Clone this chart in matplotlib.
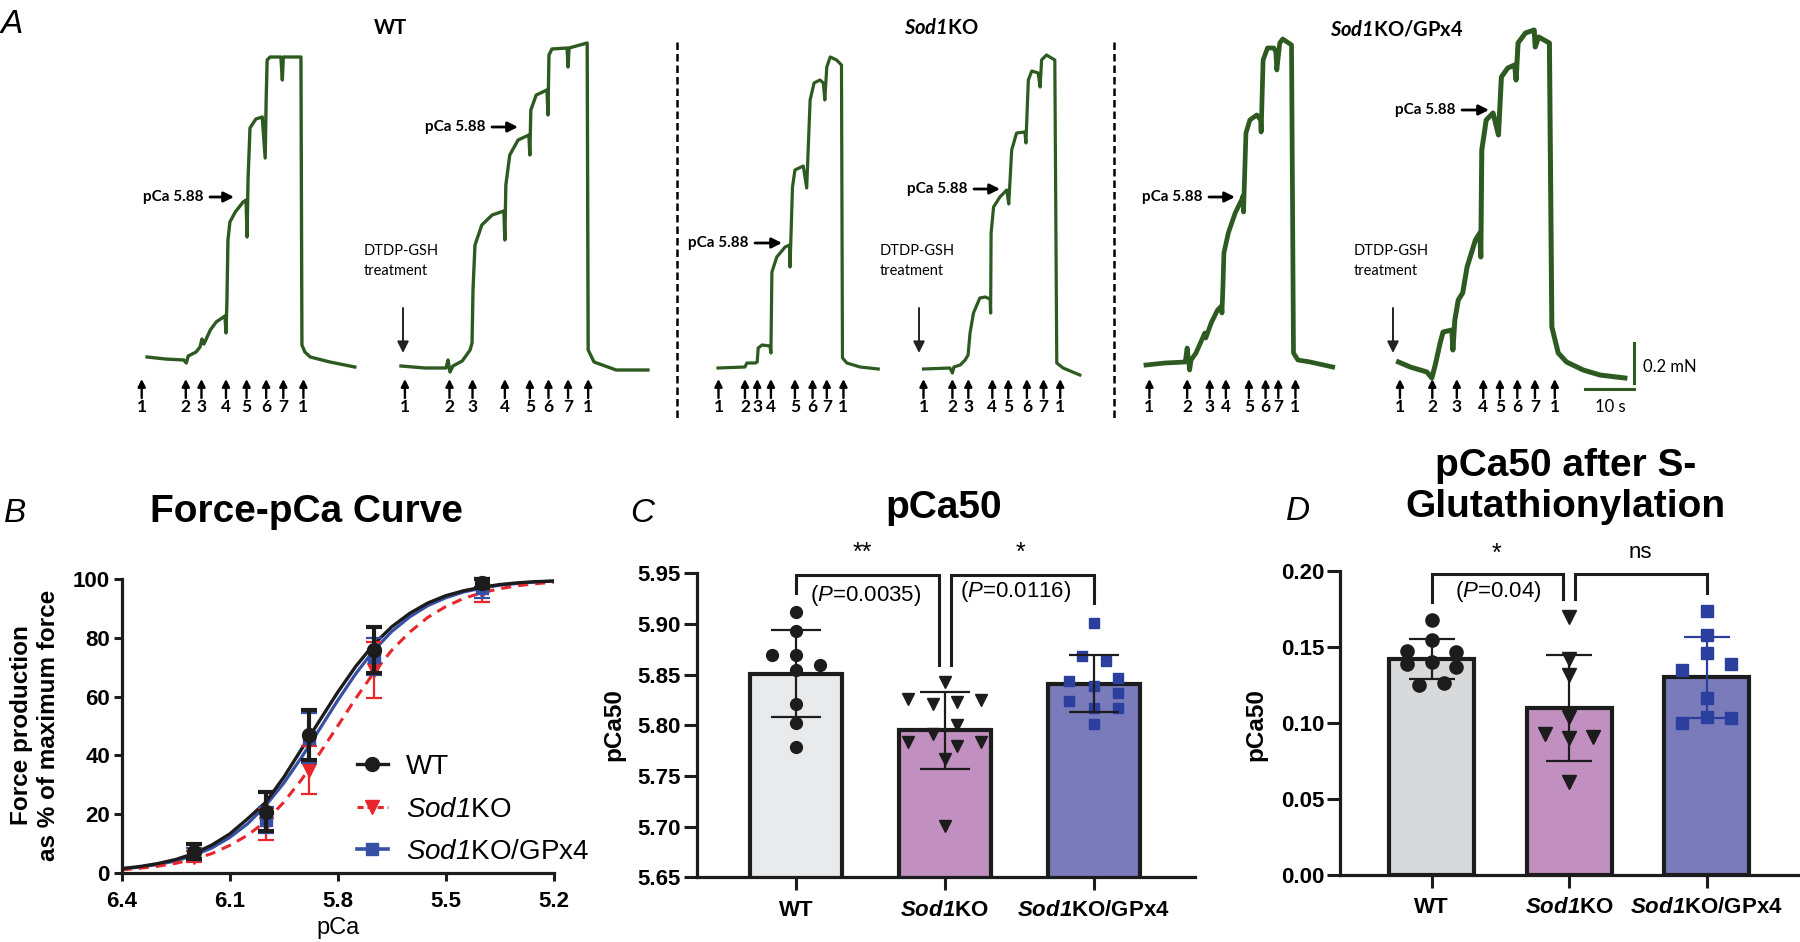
import matplotlib
matplotlib.use("Agg")
import matplotlib.pyplot as plt
from matplotlib.lines import Line2D
import numpy as np

plt.rcParams["font.family"] = ["Liberation Sans", "DejaVu Sans"]
plt.rcParams["mathtext.fontset"] = "custom"
plt.rcParams["mathtext.rm"] = "Liberation Sans"
plt.rcParams["mathtext.tt"] = "Liberation Sans:italic:bold"
plt.rcParams["mathtext.sf"] = "Liberation Sans:italic"
plt.rcParams["mathtext.cal"] = "Lato:italic:bold"

# ---------------- panel A: force recordings (time s, force above baseline mN) ----------------
sol_labels = ["1", "2", "3", "4", "5", "6", "7", "1"]

wt1_t = [1.1, 4.8, 8.6, 9.1, 9.5, 11.1, 11.9, 12.3, 12.7, 14.0, 15.2, 16.4, 17.0, 17.2, 17.4,
         17.6, 18.0, 19.1, 20.7, 21.3, 21.5, 21.7, 22.1, 23.3, 24.6, 25.2, 25.4, 25.6, 26.2,
         28.4, 28.7, 28.9, 32.5, 32.7, 33.3, 34.4, 38.4, 43.5]
wt1_f = [0.005, -0.005, -0.01, -0.025, 0.01, 0.03, 0.055, 0.095, 0.07, 0.14, 0.18, 0.20, 0.21,
         0.125, 0.29, 0.59, 0.68, 0.73, 0.78, 0.79, 0.605, 0.89, 1.15, 1.195, 1.205, 1.0, 1.29,
         1.49, 1.505, 1.505, 1.39, 1.505, 1.505, 0.065, 0.03, 0.005, -0.02, -0.045]
wt1_arrows = [0, 9.0, 12.2, 17.2, 21.4, 25.4, 28.9, 33.0]

wt2_t = [0.2, 5.1, 9.4, 9.8, 10.2, 10.8, 12.7, 14.3, 14.7, 14.9, 15.3, 16.7, 18.8, 21.2, 21.4,
         21.6, 22.4, 24.1, 26.3, 26.5, 26.7, 27.8, 30.0, 30.2, 30.4, 31.0, 34.1, 34.3, 34.5,
         38.2, 38.4, 39.6, 44.1, 50.6]
wt2_f = [0.005, -0.005, -0.005, 0.035, -0.025, 0.005, 0.03, 0.085, 0.12, 0.385, 0.61, 0.71, 0.76,
         0.78, 0.635, 0.91, 1.06, 1.135, 1.16, 1.06, 1.285, 1.36, 1.385, 1.26, 1.56, 1.59, 1.595,
         1.50, 1.595, 1.62, 0.085, 0.025, -0.015, -0.015]
wt2_arrows = [1.0, 10.1, 14.8, 21.4, 26.5, 30.3, 34.3, 38.4]

ko1_t = [0, 5.5, 5.9, 7.6, 8.0, 8.2, 9.0, 10.6, 10.8, 11.0, 12.0, 13.7, 14.6, 14.7, 15.2, 15.7,
         17.4, 18.1, 18.8, 19.6, 20.8, 21.5, 21.8, 22.2, 22.9, 24.2, 25.2, 25.4, 26.3, 29.0, 32.7]
ko1_f = [-0.005, 0, 0.02, 0.02, 0.025, 0.095, 0.11, 0.105, 0.07, 0.475, 0.55, 0.60, 0.61, 0.50,
         0.90, 0.985, 1.005, 0.895, 1.335, 1.42, 1.435, 1.42, 1.335, 1.50, 1.55, 1.535, 1.51,
         0.045, 0.02, 0, -0.01]
ko1_arrows = [0.1, 5.5, 8.0, 10.8, 15.7, 19.3, 22.2, 25.6]

ko2_t = [0.1, 5.5, 6.0, 6.3, 7.6, 8.6, 9.2, 9.6, 10.3, 11.6, 12.7, 13.7, 13.8, 13.9, 14.4, 15.7,
         17.1, 17.5, 18.1, 19.1, 20.8, 21.0, 21.5, 22.2, 23.5, 23.9, 24.2, 25.2, 26.9, 27.3,
         28.6, 32.0]
ko2_f = [0, 0.005, -0.02, 0.01, 0.02, 0.045, 0.07, 0.18, 0.28, 0.355, 0.36, 0.35, 0.28, 0.68,
         0.81, 0.86, 0.895, 0.825, 1.095, 1.18, 1.185, 1.13, 1.445, 1.49, 1.48, 1.41, 1.545, 1.57,
         1.545, 0.03, 0.005, -0.03]
ko2_arrows = [0.1, 6.0, 9.25, 14.15, 17.4, 21.2, 24.6, 28.0]

gp1_t = [0, 3.9, 8.0, 8.4, 8.9, 9.2, 10.2, 12.0, 12.2, 13.3, 14.6, 15.4, 15.5, 15.7, 15.9, 16.8,
         18.2, 19.5, 19.8, 19.9, 20.4, 21.2, 22.6, 23.4, 23.5, 23.9, 24.8, 26.1, 26.5, 26.7,
         27.3, 27.9, 29.7, 30.1, 31.0, 33.5, 38.1]
gp1_f = [-0.005, 0.005, 0.01, 0.08, -0.03, 0.02, 0.055, 0.155, 0.13, 0.205, 0.27, 0.29, 0.255,
         0.385, 0.555, 0.655, 0.755, 0.82, 0.84, 0.76, 1.155, 1.22, 1.245, 1.22, 1.16, 1.52,
         1.58, 1.58, 1.56, 1.47, 1.605, 1.625, 1.595, 0.055, 0.02, 0.01, -0.015]
gp1_arrows = [0.7, 8.4, 13.0, 16.3, 21.0, 24.4, 27.0, 30.5]

gp2_t = [0.1, 2.5, 5.9, 6.9, 7.6, 8.6, 9.2, 11.0, 11.2, 11.6, 12.3, 13.2, 14.1, 15.8, 16.7, 16.9,
         17.1, 18.0, 19.4, 20.5, 21.1, 22.4, 23.8, 24.1, 24.5, 26.0, 27.8, 28.0, 28.7, 30.9,
         31.4, 32.7, 34.4, 37.8, 41.2, 46.3]
gp2_f = [0.005, -0.02, -0.045, -0.075, -0.01, 0.10, 0.155, 0.165, 0.065, 0.215, 0.315, 0.35,
         0.48, 0.615, 0.65, 0.53, 1.065, 1.215, 1.25, 1.14, 1.43, 1.475, 1.49, 1.415, 1.60, 1.65,
         1.665, 1.58, 1.63, 1.60, 0.18, 0.05, 0.005, -0.035, -0.06, -0.075]
gp2_arrows = [0.4, 7.0, 12.0, 17.4, 20.8, 24.35, 27.95, 32.0]

scale_time = 10    # s
scale_force = 0.2  # mN

# ---------------- panel B: force-pCa ----------------
pca_fit = [6.40, 6.35, 6.30, 6.25, 6.20, 6.15, 6.10, 6.05, 6.00, 5.95, 5.90, 5.85, 5.80,
           5.75, 5.70, 5.65, 5.60, 5.55, 5.50, 5.45, 5.40, 5.35, 5.30, 5.25, 5.20]
wt_fit = [1.4, 2.1, 3.1, 4.5, 6.5, 9.4, 13.2, 18.4, 24.0, 32.5, 42.2, 51.9, 61.5, 70.3, 77.8,
          83.8, 88.4, 91.9, 94.4, 96.1, 97.3, 98.2, 98.8, 99.2, 99.4]
ko_fit = [1.0, 1.5, 2.2, 3.2, 4.6, 6.5, 9.3, 12.8, 17.5, 24.0, 31.8, 40.7, 50.0, 59.4, 68.1,
          75.8, 82.0, 87.0, 90.7, 93.5, 95.4, 96.8, 97.8, 98.5, 99.0]
gp_fit = [1.3, 1.9, 2.8, 4.0, 5.9, 8.4, 12.0, 16.7, 22.9, 30.5, 39.4, 49.0, 58.7, 67.8, 75.7,
          82.2, 87.2, 91.0, 93.7, 95.7, 97.0, 98.0, 98.6, 99.1, 99.4]
pca_pts = [6.2, 6.0, 5.88, 5.7, 5.4]
wt_pts = [7.2, 20.8, 46.9, 75.9, 98.6]
wt_err = [2.7, 6.7, 8.4, 7.8, 1.5]
ko_pts = [5.5, 16.6, 35.0, 69.0, 96.0]
ko_err = [2.0, 5.5, 8.3, 9.6, 3.6]
gp_pts = [6.5, 18.0, 45.8, 73.6, 97.0]
gp_err = [2.0, 4.5, 8.5, 6.3, 3.5]

# ---------------- panels C and D ----------------
group_labels = ["WT", r"$\mathtt{Sod1}$KO", r"$\mathtt{Sod1}$KO/GPx4"]

c_means = [5.851, 5.795, 5.841]
c_sd = [0.043, 0.038, 0.028]
c_wt = [5.912, 5.893, 5.869, 5.869, 5.860, 5.855, 5.821, 5.802, 5.779]
c_wt_dx = [0, 0, -0.16, 0, 0.16, 0, 0, 0, 0]
c_ko = [5.843, 5.826, 5.821, 5.823, 5.825, 5.800, 5.784, 5.791, 5.780, 5.784, 5.767, 5.701]
c_ko_dx = [0, -0.245, -0.08, 0.08, 0.245, 0.08, -0.245, -0.08, 0.08, 0.245, 0, 0]
c_gp = [5.901, 5.868, 5.863, 5.844, 5.839, 5.847, 5.824, 5.832, 5.817, 5.817, 5.801]
c_gp_dx = [0, -0.08, 0.08, -0.165, 0, 0.165, -0.165, 0.165, 0, 0.165, 0]
c_pvals = ["**", "*"]
c_ptext = [r"($\mathsf{P}$=0.0035)", r"($\mathsf{P}$=0.0116)"]

d_means = [0.142, 0.110, 0.130]
d_sd = [0.013, 0.035, 0.0265]
d_wt = [0.168, 0.1546, 0.1476, 0.147, 0.1388, 0.1403, 0.137, 0.125, 0.1265]
d_wt_dx = [0, 0, -0.18, 0.18, -0.18, 0, 0.18, -0.095, 0.09]
d_ko = [0.170, 0.142, 0.1316, 0.104, 0.0925, 0.090, 0.091, 0.0614]
d_ko_dx = [0, 0, 0, 0, -0.175, 0, 0.177, 0]
d_gp = [0.1739, 0.158, 0.1458, 0.1349, 0.1388, 0.1167, 0.1042, 0.0998, 0.1035]
d_gp_dx = [0, 0, 0, -0.177, 0.179, 0, 0, -0.177, 0.179]
d_pvals = ["*", "ns"]
d_ptext = r"($\mathsf{P}$=0.04)"

# ---------------- styles ----------------
GREEN = "#2d5a20"
RED = "#e8262b"
BLUE = "#3550a5"
SQ_BLUE = "#2b3f9f"
INK = "#1c1c1c"
BAR_C = ["#e9eaec", "#c290c0", "#797bba"]
BAR_D = ["#d8d9db", "#c290c0", "#797bba"]

W, H = 1800, 942
A_H = 420
PX_PER_S = 4.9
PX_PER_MN = 200.0


def fx(px):
    return px / W


def fy(py):
    return 1 - py / H


def rect(l, t, r, b):
    return [fx(l), fy(b), (r - l) / W, (b - t) / H]


def a_t(px):
    return px / PX_PER_S


def a_f(py):
    return (A_H - py) / PX_PER_MN


fig = plt.figure(figsize=(W / 100, H / 100), dpi=100)

# ---------------- panel A ----------------
ax_a = fig.add_axes(rect(0, 0, W, A_H))
ax_a.set_xlim(0, W / PX_PER_S)
ax_a.set_ylim(0, A_H / PX_PER_MN)
ax_a.axis("off")

traces = [
    (wt1_t, wt1_f, wt1_arrows, 141.7, 358, 2.4),
    (wt2_t, wt2_f, wt2_arrows, 400, 367, 2.4),
    (ko1_t, ko1_f, ko1_arrows, 718, 367, 2.3),
    (ko2_t, ko2_f, ko2_arrows, 923, 369, 2.3),
    (gp1_t, gp1_f, gp1_arrows, 1146, 364, 3.4),
    (gp2_t, gp2_f, gp2_arrows, 1398, 363, 3.6),
]
for t, f, arrows, x0, y0, lw in traces:
    ax_a.plot(np.array(t) + a_t(x0), np.array(f) + a_f(y0), color=GREEN, lw=lw,
              solid_joinstyle="round")
    for lab, ta in zip(sol_labels, arrows):
        xx = ta + a_t(x0)
        ax_a.annotate("", xy=(xx, a_f(379)), xytext=(xx, a_f(398)),
                      arrowprops=dict(arrowstyle="-|>", color="k", lw=1.7, mutation_scale=11,
                                      shrinkA=0, shrinkB=0))
        ax_a.text(xx, a_f(407.5), lab, ha="center", va="center", fontfamily="Lato",
                  fontweight="bold", fontsize=12.5)

# scale bar
bar_x, bar_y = a_t(1634.3), a_f(389.3)
ax_a.plot([bar_x - scale_time, bar_x], [bar_y, bar_y], color=GREEN, lw=2.2)
ax_a.plot([bar_x, bar_x], [a_f(383.3), a_f(383.3) + scale_force], color=GREEN, lw=2.2)

ov = fig.add_axes([0, 0, 1, 1])
ov.set_xlim(0, W)
ov.set_ylim(H, 0)
ov.axis("off")

ov.text(1643, 367, "0.2 mN", ha="left", va="center", fontfamily="Lato", fontsize=12)
ov.text(1610, 407, "10 s", ha="center", va="center", fontfamily="Lato", fontsize=12)

for xd in [677, 1114]:
    ov.plot([xd, xd], [42, 420], color="k", lw=1.8, ls=(0, (3, 1.6)))

for xc in [403, 919, 1393]:
    ov.annotate("", xy=(xc, 353), xytext=(xc, 308),
                arrowprops=dict(arrowstyle="-|>", color="#222", lw=1.4, mutation_scale=17,
                                shrinkA=0, shrinkB=0))
    ov.text(xc - 2, 261, "DTDP-GSH\ntreatment", ha="center", va="center", fontfamily="Lato",
            fontsize=10.5, linespacing=1.55, multialignment="left")

pca_marks = [(143, 208, 234, 197), (425, 490, 518, 127), (688, 753, 782, 243),
             (907, 972, 1000, 189), (1142, 1207, 1235, 197), (1395, 1460, 1489, 110)]
for xt, xa, xb, yy in pca_marks:
    ov.text(xt, yy, "pCa 5.88", ha="left", va="center", fontfamily="Lato", fontweight="bold",
            fontsize=11)
    ov.annotate("", xy=(xb, yy), xytext=(xa + 2, yy),
                arrowprops=dict(arrowstyle="-|>", color="k", lw=2.0, mutation_scale=15,
                                shrinkA=0, shrinkB=0))

ov.text(390, 28, "WT", ha="center", va="center", fontfamily="Lato", fontweight="bold",
        fontsize=14.5)
ov.text(941, 28, r"$\mathcal{Sod1}$KO", ha="center", va="center", fontfamily="Lato",
        fontweight="bold", fontsize=14.5)
ov.text(1397, 30, r"$\mathcal{Sod1}$KO/GPx4", ha="center", va="center", fontfamily="Lato",
        fontweight="bold", fontsize=14.5)

# panel letters and titles
for lx, ly, letter in [(1, 33, "A"), (4, 522, "B"), (630, 522, "C"), (1286, 520, "D")]:
    ov.text(lx, ly, letter, ha="left", va="baseline", fontstyle="italic", fontsize=24)
ov.text(306, 522, "Force-pCa Curve", ha="center", va="baseline", fontweight="bold", fontsize=28)
ov.text(944, 518, "pCa50", ha="center", va="baseline", fontweight="bold", fontsize=28)
ov.text(1566, 476, "pCa50 after S-", ha="center", va="baseline", fontweight="bold", fontsize=28)
ov.text(1565, 517, "Glutathionylation", ha="center", va="baseline", fontweight="bold",
        fontsize=28)


def style_axes(ax, tick_len):
    for s in ["top", "right"]:
        ax.spines[s].set_visible(False)
    for s in ["left", "bottom"]:
        ax.spines[s].set_linewidth(2.3)
        ax.spines[s].set_color(INK)
    ax.tick_params(length=tick_len, width=2.2, color=INK, labelsize=16)
    for lab in ax.get_yticklabels() + ax.get_xticklabels():
        lab.set_fontweight("bold")


# ---------------- panel B ----------------
ax_b = fig.add_axes(rect(121.7, 579.3, 553.7, 872.7))
ax_b.plot(pca_fit, gp_fit, color=BLUE, lw=2.3, zorder=2)
ax_b.plot(pca_fit, ko_fit, color=RED, lw=2.2, ls=(0, (3.3, 2.3)), zorder=2)
ax_b.plot(pca_fit, wt_fit, color=INK, lw=2.4, zorder=3)
ax_b.errorbar(pca_pts, ko_pts, yerr=ko_err, fmt="v", color=RED, ms=10, elinewidth=1.6,
              capsize=6, capthick=1.6, zorder=4, clip_on=False)
ax_b.errorbar(pca_pts, gp_pts, yerr=gp_err, fmt="s", color=BLUE, ms=9, elinewidth=1.6,
              capsize=6, capthick=1.6, zorder=5, clip_on=False)
ax_b.errorbar(pca_pts, wt_pts, yerr=wt_err, fmt="o", color=INK, ms=10, elinewidth=3,
              capsize=6, capthick=3, zorder=6, clip_on=False)
ax_b.set_xlim(6.4, 5.2)
ax_b.set_ylim(0, 100)
ax_b.set_xticks([6.4, 6.1, 5.8, 5.5, 5.2])
ax_b.set_yticks([0, 20, 40, 60, 80, 100])
style_axes(ax_b, 6)
ax_b.tick_params(axis="x", pad=7)
ax_b.tick_params(axis="y", pad=2.5)
handles = [
    Line2D([0], [0], color=INK, lw=2.4, marker="o", ms=10),
    Line2D([0], [0], color=RED, lw=2.2, ls=(0, (2, 1.3)), marker="v", ms=10),
    Line2D([0], [0], color=BLUE, lw=2.6, marker="s", ms=9),
]
ax_b.legend(handles, ["WT", r"$\mathsf{Sod1}$KO", r"$\mathsf{Sod1}$KO/GPx4"],
            loc="upper left", bbox_to_anchor=(0.545, 0.405), frameon=False, fontsize=20,
            borderpad=0, borderaxespad=0, handlelength=1.1, handletextpad=0.65,
            labelspacing=0.6)
ov.text(35, 725, "Force production\nas % of maximum force", rotation=90, ha="center",
        va="center", fontweight="bold", fontsize=17.5, linespacing=1.2)
ov.text(338, 928, "pCa", ha="center", va="center", fontsize=17)


# ---------------- panels C and D ----------------
def bar_panel(ax, means, sds, colors, groups, ylim, yticks, fmt, ms, capsize, err_colors):
    xs = np.arange(len(means))
    ax.bar(xs, means, width=0.62, color=colors, edgecolor=INK, linewidth=3.0, zorder=1)
    markers = [("o", INK), ("v", INK), ("s", SQ_BLUE)]
    for i, (vals, dx) in enumerate(groups):
        mk, col = markers[i]
        ax.plot(i + np.array(dx), vals, ls="none", marker=mk, color=col, ms=ms[i], zorder=3,
                clip_on=False)
        ax.errorbar(i, means[i], yerr=sds[i], fmt="none", ecolor=err_colors[i],
                    elinewidth=1.6, capsize=capsize, capthick=1.6, zorder=4)
    ax.set_xlim(-0.667, 2.68)
    ax.set_ylim(*ylim)
    ax.set_yticks(yticks)
    ax.set_yticklabels([fmt % v for v in yticks])
    ax.set_xticks(xs)
    ax.set_xticklabels(group_labels)
    style_axes(ax, 9.5)
    ax.tick_params(axis="x", pad=6.5)
    ax.tick_params(axis="y", pad=2)


def bracket(ax, x1, x2, top, y1, y2):
    ax.plot([x1, x1, x2, x2], [y1, top, top, y2], color=INK, lw=2.2, clip_on=False,
            solid_joinstyle="miter")


ax_c = fig.add_axes(rect(696.7, 573.3, 1195, 877.3))
bar_panel(ax_c, c_means, c_sd, BAR_C, [(c_wt, c_wt_dx), (c_ko, c_ko_dx), (c_gp, c_gp_dx)],
          (5.65, 5.95), [5.65, 5.70, 5.75, 5.80, 5.85, 5.90, 5.95], "%.2f", [8.5, 8.5, 7.5],
          18, [INK, INK, INK])
bracket(ax_c, 0, 0.959, 5.948, 5.931, 5.8595)
bracket(ax_c, 1.039, 2.0, 5.948, 5.8595, 5.921)
ax_c.text(0.449, 5.970, c_pvals[0], ha="center", va="center", fontsize=18, clip_on=False)
ax_c.text(1.51, 5.970, c_pvals[1], ha="center", va="center", fontsize=18, clip_on=False)
ax_c.text(0.469, 5.9276, c_ptext[0], ha="center", va="center", fontsize=16)
ax_c.text(1.476, 5.9316, c_ptext[1], ha="center", va="center", fontsize=16)
ov.text(614, 725, "pCa50", rotation=90, ha="center", va="center", fontweight="bold",
        fontsize=17.5)

ax_d = fig.add_axes(rect(1340, 571, 1800, 875))
bar_panel(ax_d, d_means, d_sd, BAR_D, [(d_wt, d_wt_dx), (d_ko, d_ko_dx), (d_gp, d_gp_dx)],
          (0, 0.20), [0.00, 0.05, 0.10, 0.15, 0.20], "%.2f", [9.5, 9.5, 8.5], 16.5,
          [INK, INK, SQ_BLUE])
bracket(ax_d, 0, 0.956, 0.1978, 0.1798, 0.1816)
bracket(ax_d, 1.044, 2.0, 0.1978, 0.1816, 0.1857)
ax_d.text(0.469, 0.2112, d_pvals[0], ha="center", va="center", fontsize=18, clip_on=False)
ax_d.text(1.521, 0.2125, d_pvals[1], ha="center", va="center", fontsize=16, clip_on=False)
ax_d.text(0.484, 0.1862, d_ptext, ha="center", va="center", fontsize=16)
ov.text(1256, 725, "pCa50", rotation=90, ha="center", va="center", fontweight="bold",
        fontsize=17.5)

fig.savefig("out.png", dpi=100, facecolor="white")
